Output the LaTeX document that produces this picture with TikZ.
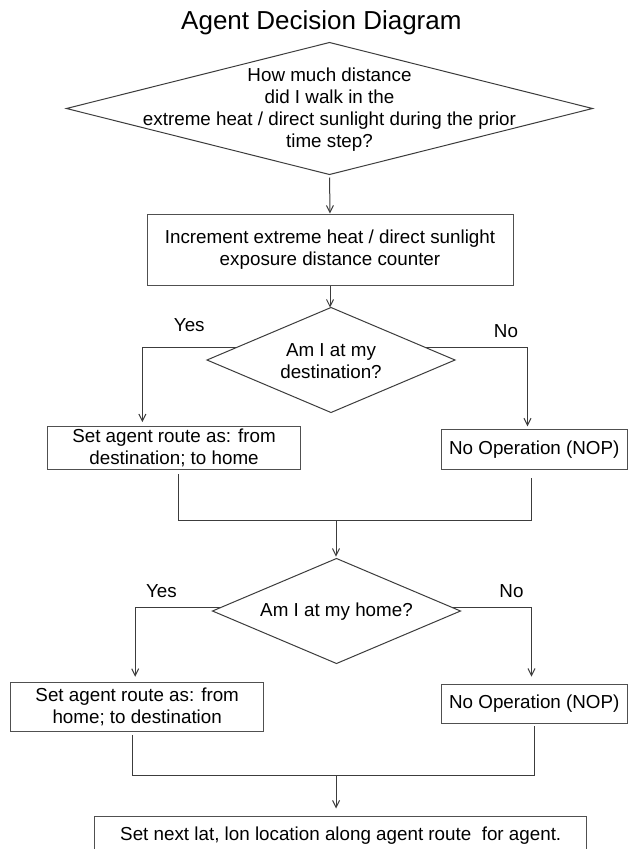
\documentclass[tikz,border=0pt]{standalone}
\usepackage{fontspec}
\setmainfont{Liberation Sans}
\usetikzlibrary{shapes.geometric,arrows.meta,calc}
\definecolor{ln}{RGB}{60,60,60}
\definecolor{bx}{RGB}{80,80,80}
\newcommand\bodyfont{\fontsize{18.8}{22}\selectfont}
\tikzset{
  box/.style={draw=bx, line width=1pt, inner sep=0pt, align=center, font=\bodyfont},
  dia/.style={draw=ln, line width=1pt, shape=diamond, inner sep=0pt, outer sep=0pt},
  conn/.style={draw=ln, line width=1pt},
  arr/.style={conn, -{Straight Barb[length=7pt,width=7pt]}},
  lbl/.style={font=\bodyfont, align=center}
}
\begin{document}
\begin{tikzpicture}[x=1pt,y=-1pt]
\useasboundingbox (0,0) rectangle (629,849);
\fill[white] (0,0) rectangle (629,849);
\node[font=\fontsize{26}{30}\selectfont, anchor=base] (title) at (321.4,29.3) {Agent Decision Diagram};
% first decision
\node[dia, minimum width=526pt, minimum height=132pt] (d1) at (329.5,108.5) {};
\node[lbl] (t1) at (329.5,109.3) {How much distance\\did I walk in the\\extreme heat / direct sunlight during the prior\\time step?};
\node[box, minimum width=366pt, minimum height=71pt] (b1) at (330,249.5) {Increment extreme heat / direct sunlight\\exposure distance counter};
\draw[arr, shorten <=3pt] (d1.south) -- (b1.north);
% second decision
\node[dia, minimum width=248pt, minimum height=105pt] (d2) at (331,360) {};
\node[lbl] (t2) at (331,361) {Am I at my\\destination?};
\draw[arr] (b1.south) -- (b1.south |- d2.north);
\node[box, minimum width=253.5pt, minimum height=43.3pt] (l1) at (174,448.3) {Set agent route as: from\\destination; to home};
\node[box, minimum width=186.3pt, minimum height=40pt] (r1) at (534.3,449.3) {No Operation (NOP)};
\draw[arr, shorten >=4pt] ($(d2.west)!0.235!(d2.north)$) -| ([xshift=-31.6pt]l1.north);
\draw[arr, shorten >=2.5pt] ($(d2.east)!0.235!(d2.north)$) -| ([xshift=-6.8pt]r1.north);
\node[lbl] (y1) at (189.3,325.3) {Yes};
\node[lbl] (n1) at (506,331) {No};
\coordinate (m1) at (336,520.7);
\draw[conn] ([xshift=4.5pt,yshift=-4pt]l1.south) |- (m1) -| ([xshift=-2.8pt,yshift=-8pt]r1.south);
% third decision
\node[dia, minimum width=248pt, minimum height=105pt] (d3) at (336.5,611) {};
\node[lbl] (t3) at (336.5,612) {Am I at my home?};
\draw[arr, shorten >=2pt] (m1) -- (m1 |- d3.north);
\node[box, minimum width=252.7pt, minimum height=49.4pt] (l2) at (137.2,707) {Set agent route as: from\\home; to destination};
\node[box, minimum width=186.3pt, minimum height=39.3pt] (r2) at (534.3,703.7) {No Operation (NOP)};
\draw[arr, shorten >=5pt] ($(d3.west)!0.06!(d3.north)$) -| ([xshift=-2pt]l2.north);
\draw[arr, shorten >=7pt] ($(d3.east)!0.06!(d3.north)$) -| ([xshift=-2.8pt]r2.north);
\node[lbl] (y2) at (161.5,591.3) {Yes};
\node[lbl] (n2) at (511.5,591.3) {No};
\coordinate (m2) at (336.1,775);
\draw[conn] ([xshift=-4.8pt,yshift=-3pt]l2.south) |- (m2) -| ([yshift=-2pt]r2.south);
\node[box, minimum width=492pt, minimum height=40pt] (b2) at (340.75,836) {Set next lat, lon location along agent route~ for agent.};
\draw[arr, shorten >=7pt] (m2) -- (m2 |- b2.north);
\end{tikzpicture}
\end{document}
